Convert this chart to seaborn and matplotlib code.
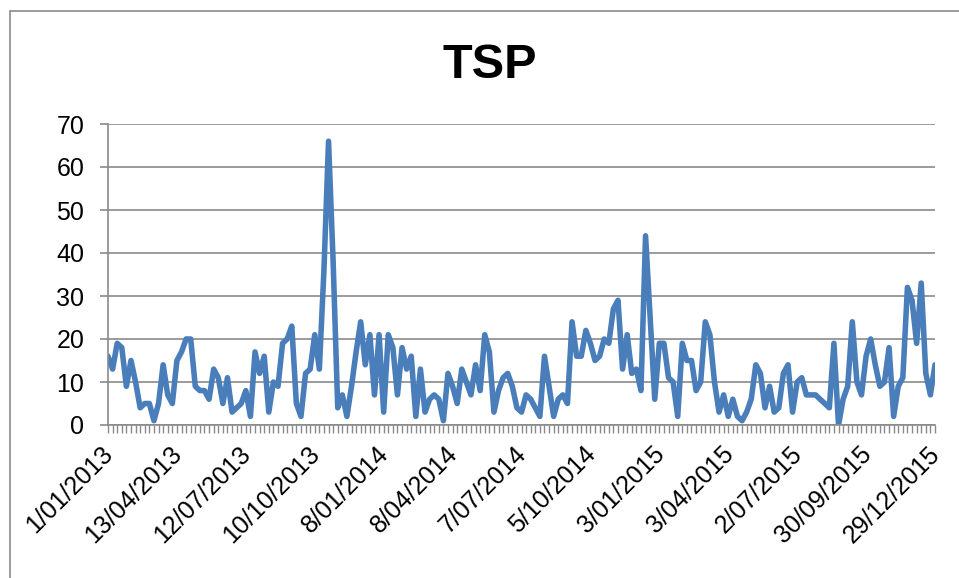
import matplotlib
matplotlib.use('agg')

import matplotlib.pyplot as plt
import matplotlib.transforms as mtransforms
import seaborn as sns
import pandas as pd

# TSP samples, one every 6 days
tsp = [16, 13, 19, 18, 9, 15, 10, 4, 5, 5,
       1, 5, 14, 7, 5, 15, 17, 20, 20, 9,
       8, 8, 6, 13, 11, 5, 11, 3, 4, 5,
       8, 2, 17, 12, 16, 3, 10, 9, 19, 20,
       23, 5, 2, 12, 13, 21, 13, 36, 66, 38,
       4, 7, 2, 9, 17, 24, 14, 21, 7, 21,
       3, 21, 18, 7, 18, 13, 16, 2, 13, 3,
       6, 7, 6, 1, 12, 9, 5, 13, 10, 7,
       14, 8, 21, 17, 3, 8, 11, 12, 9, 4,
       3, 7, 6, 4, 2, 16, 9, 2, 6, 7,
       5, 24, 16, 16, 22, 19, 15, 16, 20, 19,
       27, 29, 13, 21, 12, 13, 8, 44, 25, 6,
       19, 19, 11, 10, 2, 19, 15, 15, 8, 10,
       24, 21, 10, 3, 7, 2, 6, 2, 1, 3,
       6, 14, 12, 4, 9, 3, 4, 12, 14, 3,
       10, 11, 7, 7, 7, 6, 5, 4, 19, 0,
       6, 9, 24, 10, 7, 16, 20, 14, 9, 10,
       18, 2, 9, 11, 32, 29, 19, 33, 12, 7,
       14]

tick_labels = ['1/01/2013', '13/04/2013', '12/07/2013', '10/10/2013',
               '8/01/2014', '8/04/2014', '7/07/2014', '5/10/2014',
               '3/01/2015', '3/04/2015', '2/07/2015', '30/09/2015',
               '29/12/2015']
label_step = 15

sns.set_style('white')
plt.rcParams['font.family'] = ['Liberation Sans', 'DejaVu Sans']

W, H = 959, 578
fig = plt.figure(figsize=(W / 100, H / 100), dpi=100)
ax = fig.add_axes([108 / W, 1 - 425 / H, 827 / W, 301 / H])

df = pd.DataFrame({'sample': range(len(tsp)), 'TSP': tsp})
sns.lineplot(data=df, x='sample', y='TSP', ax=ax, color='#4A7EBB',
             linewidth=4, solid_joinstyle='round', solid_capstyle='round')

grey = '#8A8A8A'
ax.set_xlim(0, len(tsp) - 1)
ax.set_ylim(0, 70)
ax.set_yticks(range(0, 71, 10))
ax.yaxis.grid(True, color=grey, linewidth=1.2)
ax.xaxis.grid(False)
ax.set_xticks(range(0, len(tsp), label_step))
ax.set_xticks(range(len(tsp)), minor=True)
ax.set_xticklabels(tick_labels, rotation=45, ha='right', va='top',
                   rotation_mode='anchor')
ax.set_xlabel('')
ax.set_ylabel('')

ax.tick_params(axis='x', which='both', direction='out', length=6, width=1,
               color=grey, bottom=True, labelsize=18, labelcolor='black',
               pad=6)
ax.tick_params(axis='y', direction='out', length=6, width=1.2, color=grey,
               left=True, labelsize=18, labelcolor='black', pad=11)

# nudge the slanted labels a little to the left
shift = mtransforms.ScaledTranslation(-0.07, 0, fig.dpi_scale_trans)
for lab in ax.get_xticklabels():
    lab.set_transform(lab.get_transform() + shift)

for side in ['top', 'right']:
    ax.spines[side].set_visible(False)
for side in ['left', 'bottom']:
    ax.spines[side].set_color(grey)
    ax.spines[side].set_linewidth(1.2)

fig.text(490 / W, 1 - 78 / H, 'TSP', ha='center', va='baseline',
         fontsize=35, fontweight='bold', color='black')

# chart frame (right and bottom edges fall outside the picture)
fig.patches.append(plt.Rectangle((10 / W, -0.1), 1.2, 1 - 11 / H + 0.1,
                                 transform=fig.transFigure, fill=False,
                                 edgecolor=grey, linewidth=1.2))

fig.savefig('out.png', dpi=100)
